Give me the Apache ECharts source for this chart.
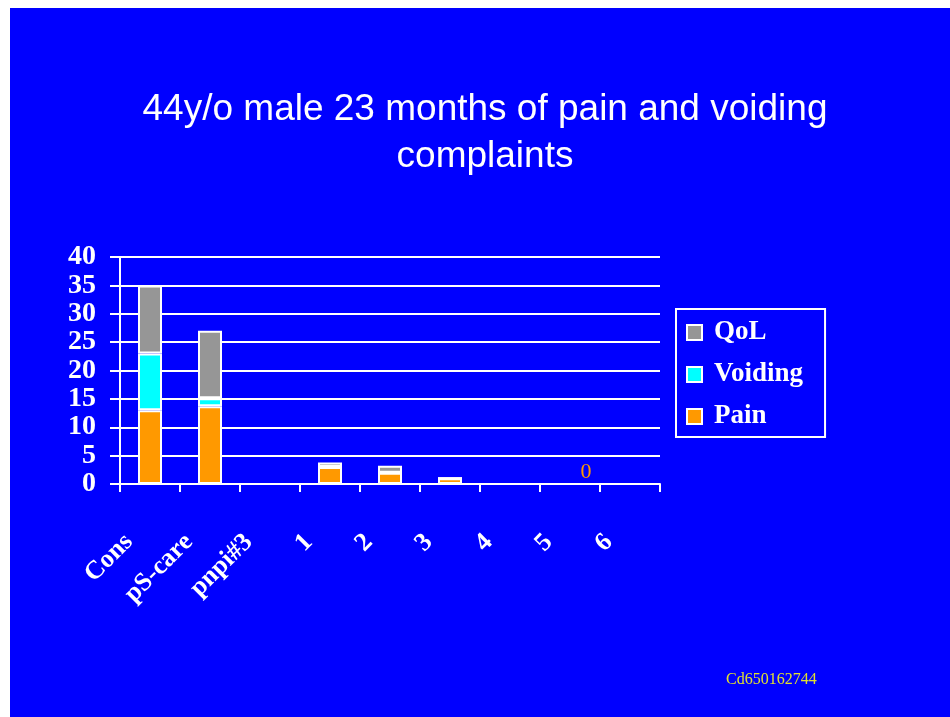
<!DOCTYPE html>
<html>
<head>
<meta charset="utf-8">
<script src="https://cdn.jsdelivr.net/npm/echarts@6/dist/echarts.min.js"></script>
<style>
  html, body { margin: 0; padding: 0; background: #fff; }
  #chart { position: absolute; left: 10px; top: 8px; width: 940px; height: 709px; }
</style>
</head>
<body>
<div id="chart"></div>
<script>
// categories along the x axis
var categories = ['Cons', 'pS-care', 'pnpi#3', '1', '2', '3', '4', '5', '6']
// stacked scores, bottom to top
var pain = [13, 13.7, 0, 3, 2, 1, 0, 0, 0]
var voiding = [10, 1.4, 0, 0, 0, 0, 0, 0, 0]
var qol = [12, 11.9, 0, 0.8, 1.2, 0, 0, 0, 0]
var yTicks = [0, 5, 10, 15, 20, 25, 30, 35, 40]

var serif = '"Liberation Serif", "DejaVu Serif", serif'
var barBorder = { borderColor: '#ffffff', borderWidth: 2 }

// the lone "0" label sits on the Pain bar of category "5"
var painData = pain.map(function (v, i) {
  if (categories[i] === '5') {
    return {
      value: v,
      label: {
        show: true,
        formatter: '0',
        position: 'top',
        distance: 0,
        offset: [16, 0],
        color: '#ff9900',
        fontFamily: serif,
        fontSize: 22
      }
    }
  }
  return v
})

var chart = echarts.init(document.getElementById('chart'))
chart.setOption({
  backgroundColor: '#0000ff',
  animation: false,
  title: {
    text: '44y/o male 23 months of pain and voiding\ncomplaints',
    left: 475,
    textAlign: 'center',
    top: 78,
    padding: 0,
    textStyle: {
      color: '#ffffff',
      fontFamily: '"Liberation Sans", Arial, sans-serif',
      fontWeight: 'normal',
      fontSize: 37,
      lineHeight: 47
    }
  },
  grid: {
    left: 110,
    right: 290,
    top: 249,
    bottom: 233
  },
  legend: {
    data: ['QoL', 'Voiding', 'Pain'],
    orient: 'vertical',
    icon: 'rect',
    left: 666,
    top: 301,
    padding: [10, 22, 7, 10],
    itemGap: 15,
    itemWidth: 15,
    itemHeight: 15,
    borderColor: '#ffffff',
    borderWidth: 2,
    textStyle: {
      color: '#ffffff',
      fontFamily: serif,
      fontWeight: 'bold',
      fontSize: 27,
      padding: [0, 0, 0, 7]
    }
  },
  xAxis: {
    type: 'category',
    data: categories,
    axisLine: { lineStyle: { color: '#ffffff', width: 2 } },
    axisTick: { show: true, length: 8, lineStyle: { color: '#ffffff', width: 2 } },
    axisLabel: {
      interval: 0,
      rotate: 45,
      margin: 33,
      padding: [0, 30, 0, 0],
      color: '#ffffff',
      fontFamily: serif,
      fontWeight: 'bold',
      fontSize: 26
    }
  },
  yAxis: {
    type: 'value',
    min: yTicks[0],
    max: yTicks[yTicks.length - 1],
    interval: 5,
    axisLine: { show: true, lineStyle: { color: '#ffffff', width: 2 } },
    axisTick: { show: true, length: 10, lineStyle: { color: '#ffffff', width: 2 } },
    splitLine: { lineStyle: { color: '#ffffff', width: 2 } },
    axisLabel: {
      margin: 24,
      color: '#ffffff',
      fontFamily: serif,
      fontWeight: 'bold',
      fontSize: 28
    }
  },
  series: [
    {
      name: 'Pain',
      type: 'bar',
      stack: 'score',
      barWidth: '40%',
      data: painData,
      itemStyle: Object.assign({ color: '#ff9900' }, barBorder)
    },
    {
      name: 'Voiding',
      type: 'bar',
      stack: 'score',
      barWidth: '40%',
      data: voiding,
      itemStyle: Object.assign({ color: '#00ffff' }, barBorder)
    },
    {
      name: 'QoL',
      type: 'bar',
      stack: 'score',
      barWidth: '40%',
      data: qol,
      itemStyle: Object.assign({ color: '#969696' }, barBorder)
    }
  ],
  graphic: [
    {
      type: 'text',
      left: 716,
      top: 664,
      style: {
        text: 'Cd650162744',
        fill: '#e0e030',
        font: '16px ' + serif
      }
    }
  ]
})
</script>
</body>
</html>
